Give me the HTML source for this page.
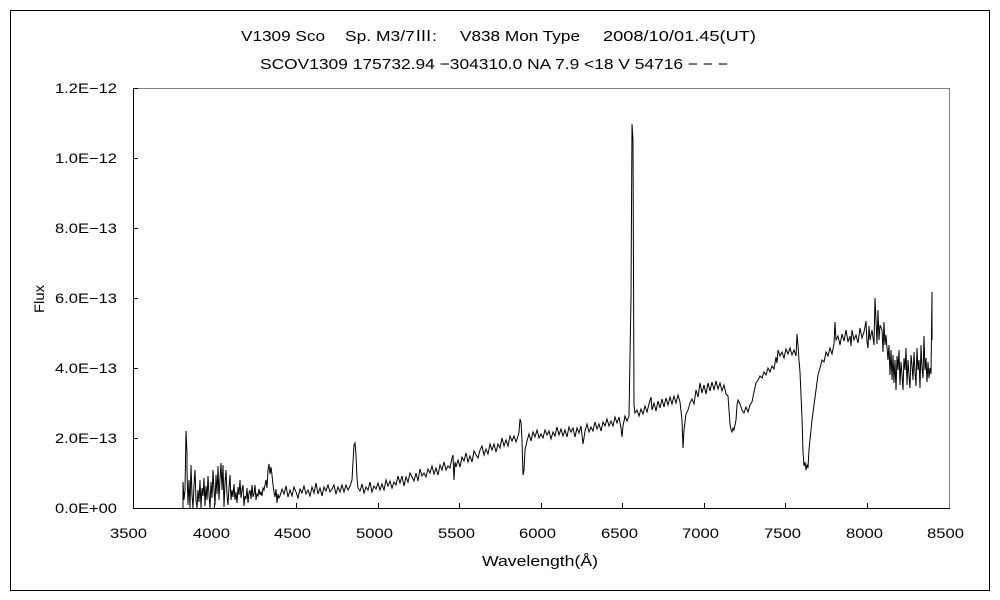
<!DOCTYPE html>
<html>
<head>
<meta charset="utf-8">
<style>
html,body{margin:0;padding:0;background:#fff;}
svg{display:block;}
text{font-family:"Liberation Sans","Noto Sans CJK JP",sans-serif;fill:#000;}
</style>
</head>
<body>
<svg width="1000" height="600" viewBox="0 0 1000 600" xmlns="http://www.w3.org/2000/svg">
<rect x="0" y="0" width="1000" height="600" fill="#fff"/>
<rect x="10.5" y="10.5" width="979" height="580" fill="none" stroke="#000" stroke-width="1"/>

<!-- titles -->
<text x="241" y="41" font-size="15" textLength="84" lengthAdjust="spacingAndGlyphs">V1309 Sco</text>
<text x="345" y="41" font-size="15" textLength="92" lengthAdjust="spacingAndGlyphs">Sp. M3/7Ⅲ:</text>
<text x="460" y="41" font-size="15" textLength="120" lengthAdjust="spacingAndGlyphs">V838 Mon Type</text>
<text x="603" y="41" font-size="15" textLength="153" lengthAdjust="spacingAndGlyphs">2008/10/01.45(UT)</text>
<text x="260" y="69" font-size="15" textLength="468" lengthAdjust="spacingAndGlyphs">SCOV1309 175732.94 −304310.0 NA 7.9 &lt;18 V 54716 − − −</text>

<!-- plot frame -->
<line x1="133" y1="88.5" x2="949" y2="88.5" stroke="#808080" stroke-width="1"/>
<line x1="949.5" y1="88" x2="949.5" y2="508" stroke="#808080" stroke-width="1"/>
<line x1="133.5" y1="88" x2="133.5" y2="509" stroke="#000" stroke-width="1"/>
<line x1="133" y1="508.5" x2="950" y2="508.5" stroke="#000" stroke-width="1"/>

<!-- y ticks -->
<g stroke="#000" stroke-width="1">
<line x1="133" y1="438.5" x2="138" y2="438.5"/>
<line x1="133" y1="368.5" x2="138" y2="368.5"/>
<line x1="133" y1="298.5" x2="138" y2="298.5"/>
<line x1="133" y1="228.5" x2="138" y2="228.5"/>
<line x1="133" y1="158.5" x2="138" y2="158.5"/>
<line x1="133" y1="88.5" x2="138" y2="88.5"/>
<!-- x ticks -->
<line x1="214.5" y1="508" x2="214.5" y2="503"/>
<line x1="296.5" y1="508" x2="296.5" y2="503"/>
<line x1="378.5" y1="508" x2="378.5" y2="503"/>
<line x1="459.5" y1="508" x2="459.5" y2="503"/>
<line x1="541.5" y1="508" x2="541.5" y2="503"/>
<line x1="622.5" y1="508" x2="622.5" y2="503"/>
<line x1="704.5" y1="508" x2="704.5" y2="503"/>
<line x1="785.5" y1="508" x2="785.5" y2="503"/>
<line x1="867.5" y1="508" x2="867.5" y2="503"/>
</g>

<!-- y labels -->
<g font-size="14" text-anchor="end">
<text x="117" y="513" textLength="62" lengthAdjust="spacingAndGlyphs">0.0E+00</text>
<text x="117" y="443" textLength="62" lengthAdjust="spacingAndGlyphs">2.0E−13</text>
<text x="117" y="373" textLength="62" lengthAdjust="spacingAndGlyphs">4.0E−13</text>
<text x="117" y="303" textLength="62" lengthAdjust="spacingAndGlyphs">6.0E−13</text>
<text x="117" y="233" textLength="62" lengthAdjust="spacingAndGlyphs">8.0E−13</text>
<text x="117" y="163" textLength="62" lengthAdjust="spacingAndGlyphs">1.0E−12</text>
<text x="117" y="93" textLength="62" lengthAdjust="spacingAndGlyphs">1.2E−12</text>
</g>

<!-- x labels -->
<g font-size="14">
<text x="110" y="538" textLength="37" lengthAdjust="spacingAndGlyphs">3500</text>
<text x="193" y="538" textLength="37" lengthAdjust="spacingAndGlyphs">4000</text>
<text x="274" y="538" textLength="37" lengthAdjust="spacingAndGlyphs">4500</text>
<text x="356" y="538" textLength="37" lengthAdjust="spacingAndGlyphs">5000</text>
<text x="438" y="538" textLength="37" lengthAdjust="spacingAndGlyphs">5500</text>
<text x="519" y="538" textLength="37" lengthAdjust="spacingAndGlyphs">6000</text>
<text x="601" y="538" textLength="37" lengthAdjust="spacingAndGlyphs">6500</text>
<text x="682" y="538" textLength="37" lengthAdjust="spacingAndGlyphs">7000</text>
<text x="764" y="538" textLength="37" lengthAdjust="spacingAndGlyphs">7500</text>
<text x="846" y="538" textLength="37" lengthAdjust="spacingAndGlyphs">8000</text>
<text x="927" y="538" textLength="37" lengthAdjust="spacingAndGlyphs">8500</text>
</g>

<!-- axis titles -->
<text x="482" y="566" font-size="15" textLength="116" lengthAdjust="spacingAndGlyphs">Wavelength(Å)</text>
<text transform="translate(44,313) rotate(-90)" font-size="14" textLength="28" lengthAdjust="spacingAndGlyphs">Flux</text>

<!-- spectrum -->
<polyline fill="none" stroke="#000" stroke-width="1" stroke-linejoin="miter" points="
183,508 183,482 184,500 185,490 186,431 187,453 187,470 188,505 189,480 190,508 191,465 192,495 193,508 194,485 195,470 196,500 197,508 198,490 199,502 200,480 201,508 202,488 203,496 204,478 205,506 206,486 207,500 208,476 209,495 210,508 211,482 212,498 213,470 214,490 215,505 216,475 217,494 218,466 219,500 220,478 221,463 222,490 223,465 224,507 225,483 226,470 227,495 228,505 229,488 230,475 231,500 232,490 233,497 234,484 235,500 236,492 237,503 238,487 239,495 240,480 241,498 242,490 243,485 244,506 245,496 246,499 247,488 248,503 249,493 250,490 251,499 252,485 253,497 254,494 255,485 256,500 257,494 258,496 259,489 260,495 261,492 262,496 263,488 264,490 265,485 266,480 267,488 268,470 269,464 270,474 271,467 272,475 273,485 274,492 275,497 276,489 277,503 278,494 279,498
280,496 282,489 284,494 286,486 288,497 290,490 292,496 294,487 296,492 298,498 300,489 302,493 304,486 306,494 308,490 310,496 312,487 314,493 316,483 318,494 320,488 322,496 324,487 326,491 328,485 330,492 332,489 334,485 336,494 338,487 340,492 342,485 344,492 346,485 348,490 350,486
352,480 353,462 354,445 355,443 356,455 357,478 358,488
360,491 362,484 364,493 366,487 368,490 370,482 372,492 374,486 376,489 378,483 380,490
382,484 384,490 386,480 388,486 390,481 392,488 394,482 396,485 398,476 400,483 402,476 404,486 406,477 408,482 410,473 412,477 414,481 416,473 418,481 420,469 422,476 424,473 426,477 428,469 430,473 432,466 434,474 436,468 438,475 440,465 442,470 444,462 446,470 448,466 450,468
452,458 453,455 454,480 455,462
456,467 458,460 460,467 462,457 464,461 466,453 468,462 470,456 472,462 474,451 476,455 478,458 480,450 482,446 484,455 486,449 488,454 490,444 492,450 494,444 496,452 498,444 500,448 502,438 504,446 506,440 508,446 510,436 512,441 514,436 516,442 518,436
519,432 520,419 521,422 522,440 523,475 524,470 525,450
527,441 529,434 531,441 533,432 535,437 537,430 539,438 541,434 543,438 545,430 547,435 549,431 551,439 553,432 555,436 557,427 559,435 561,429 563,436 565,430 567,437 569,427 571,432 573,428 575,437 577,428 579,433 581,426
583,444 584,438
585,431 587,424 589,432 591,427 593,431 595,422 597,429 599,424 601,431 603,422 605,426 607,419 609,426 611,421 613,426 615,417 617,423 619,417
621,428 622,437 623,426
625,416 627,421 629,416
630,357 631,297 632,124 633,140 634,405
635,413 637,410 639,416 641,409 643,414 645,406 647,412 649,404 651,397 652,410 654,403 656,411 658,401 660,408 662,399 664,407 666,398 668,405 670,397 672,404 674,396 676,403 678,395 680,402
682,420 683,448 684,430 686,414
688,410 690,403 692,399 694,404 696,390 698,397 700,383 702,393 704,385 706,394 708,383 710,391 712,382 714,390 716,381 718,389 720,383 722,391 724,385 726,394 728,396
729,410 730,424 731,430 732,432 733,428 734,430 736,420 737,405 738,400 740,404 742,410 744,413 746,407 748,412 750,405 752,402 754,392 756,383 758,380 760,376 762,378 764,372 766,375 768,368 770,372 772,366 774,369 776,357 777,363 778,350 780,356 782,352 784,358 786,349 788,354 790,348 792,355 794,350 796,356 797,334 798,345 799,360 800,372 801,395 802,418 803,452 804,466 805,462 806,470 807,465 808,468 809,450 810,440 812,420 814,405 816,390 818,375 820,368 822,360 824,362 826,352 828,356 830,348 832,354 834,344 835,322 836,340 838,336 840,345 842,334 844,341 846,330 848,342 850,336 851,346 852,330 854,340 856,335 858,343 860,328 862,338 864,332 866,321 867,342 868,348 869,326 870,340 872,330 874,345 875,298 876,320 877,344 878,310 879,340 880,325 882,330 883,352 884,322 885,345 886,335 888,360 889,345 890,375 891,350 892,380 893,355 894,383 895,360 896,390 897,356 898,370 899,350 900,385 901,362 902,375 903,390 904,358 905,370 906,348 907,385 908,360 909,376 910,388 911,355 912,365 913,380 914,352 915,372 916,386 917,348 918,370 919,360 920,388 921,345 922,368 923,378 924,336 925,370 926,358 927,382 928,362 929,378 930,368 931,374 932,292 932,340"/>
</svg>
</body>
</html>
